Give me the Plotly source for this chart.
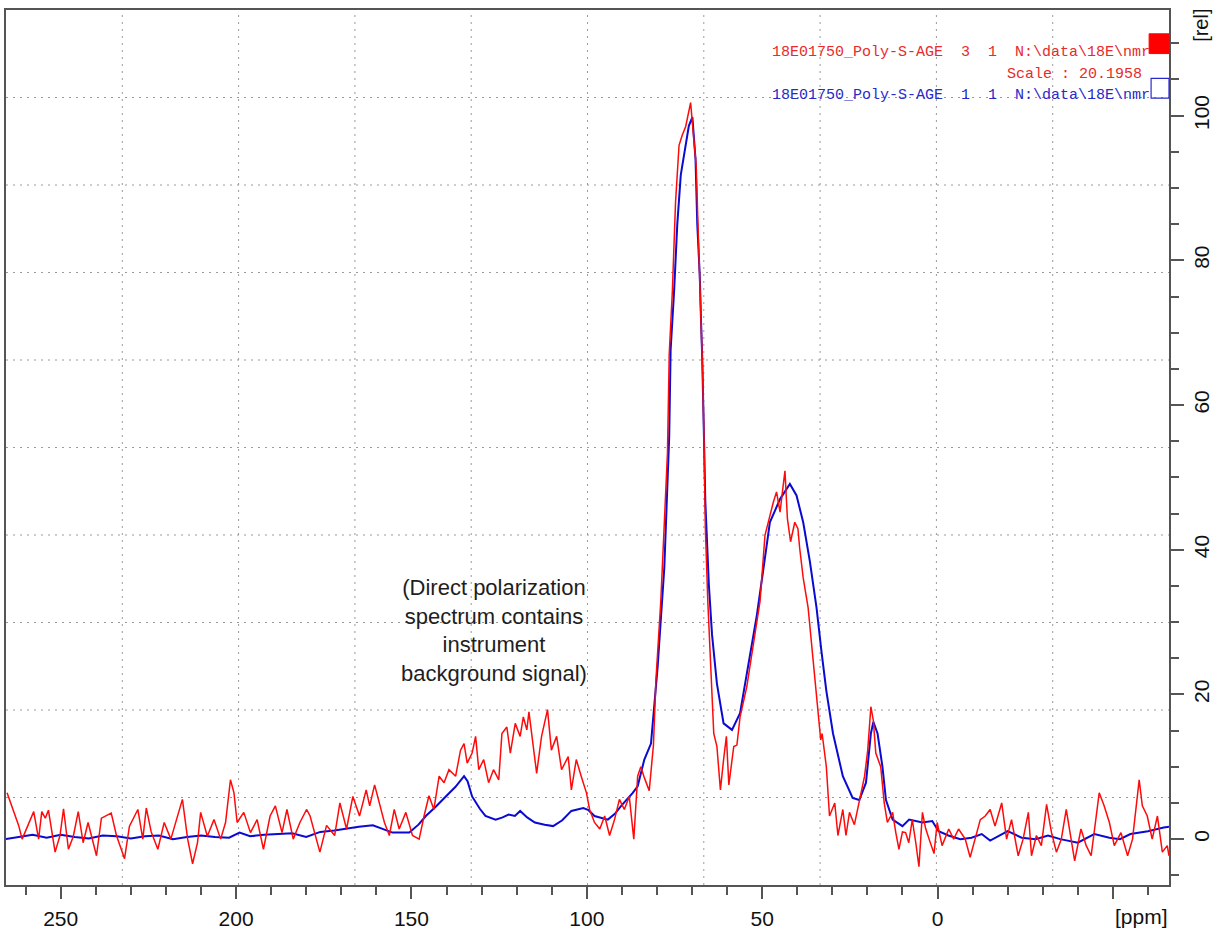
import plotly.graph_objects as go

# ---------------- data ----------------
red_ppm = [
    265.3, 263.9, 262.0, 261.0, 257.7, 256.3, 255.4, 254.4, 253.5, 251.6,
    250.2, 249.2, 247.8, 246.4, 245.0, 243.6, 242.2, 239.8, 238.4, 235.6,
    234.1, 231.8, 230.4, 228.0, 226.6, 225.6, 224.2, 222.3, 220.5, 218.6,
    216.7, 215.3, 213.8, 212.4, 211.0, 210.1, 208.2, 206.3, 204.4, 203.0,
    201.6, 200.6, 199.7, 197.8, 195.9, 194.0, 192.2, 190.3, 188.8, 186.9,
    185.5, 183.7, 181.8, 179.9, 178.9, 176.1, 174.2, 171.9, 170.4, 168.5,
    166.7, 164.8, 162.9, 161.9, 160.5, 159.1, 157.7, 156.3, 154.9, 153.5,
    151.6, 149.7, 147.8, 146.4, 145.0, 143.6, 142.1, 140.7, 139.3, 137.4,
    136.0, 135.0, 134.1, 132.7, 131.7, 130.8, 129.4, 128.0, 126.6, 125.1,
    124.2, 122.8, 121.8, 120.4, 119.0, 118.1, 117.1, 116.5, 115.2, 114.3,
    112.9, 111.2, 110.1, 108.6, 107.2, 105.3, 104.4, 103.0, 101.6, 100.1,
    99.2, 97.8, 96.3, 94.9, 93.5, 92.1, 90.7, 89.3, 87.9, 86.6,
    85.5, 84.6, 83.6, 82.2, 81.0, 80.3, 78.9, 77.0, 76.5, 75.6,
    74.7, 73.7, 72.8, 71.8, 70.4, 69.5, 68.8, 68.3, 67.6, 67.0,
    66.6, 66.2, 65.5, 64.6, 63.8, 62.9, 61.9, 61.0, 60.2, 59.5,
    58.1, 57.2, 56.3, 54.4, 52.0, 50.6, 49.2, 48.3, 46.8, 45.9,
    44.9, 44.0, 43.5, 42.8, 41.9, 40.7, 39.8, 39.3, 38.3, 36.9,
    36.0, 34.5, 33.3, 32.9, 31.7, 30.8, 29.3, 28.4, 27.0, 26.1,
    25.1, 23.7, 22.3, 20.8, 19.9, 19.0, 18.3, 17.6, 16.2, 15.2,
    14.3, 12.8, 11.9, 11.0, 10.0, 9.1, 8.2, 7.2, 6.2, 5.3,
    4.3, 3.4, 2.4, 1.5, 1.0, 0.1, -1.3, -3.2, -4.6, -6.0,
    -7.9, -9.3, -10.8, -12.2, -13.6, -15.0, -16.4, -18.3, -19.7, -21.1,
    -23.0, -24.4, -25.9, -26.8, -28.2, -29.6, -31.1, -32.5, -33.9, -35.3,
    -36.7, -38.1, -39.1, -40.9, -42.4, -43.8, -44.7, -46.1, -47.5, -49.0,
    -50.4, -52.3, -54.2, -55.6, -57.5, -58.4, -59.8, -61.2, -62.7, -64.1,
    -65.5, -66.0,
]
red_val = [
    6.4, 4.6, 1.9, 0.0, 3.8, 0.0, 3.8, 2.9, 4.0, -1.8,
    0.5, 4.2, -1.4, 0.4, 3.8, -0.5, 2.3, -2.3, 2.9, 3.6,
    0.5, -2.7, 1.8, 4.1, 0.0, 4.3, 1.0, -1.4, 2.3, 0.0,
    3.2, 5.5, 0.0, -3.4, -0.5, 3.7, 0.4, 2.7, 0.0, 2.3,
    8.2, 6.4, 2.3, 3.7, 0.9, 2.7, -1.4, 3.2, 4.6, 0.9,
    4.1, 0.0, 2.3, 4.1, 3.2, -1.8, 1.9, 0.5, 5.0, 1.4,
    5.9, 3.2, 6.8, 4.6, 7.5, 5.0, 2.3, 0.5, 4.1, 1.4,
    3.7, 0.5, 0.0, 3.2, 6.0, 4.1, 8.7, 7.8, 9.6, 8.7,
    12.3, 13.2, 10.5, 11.9, 14.2, 9.6, 11.0, 7.8, 9.6, 8.2,
    14.6, 15.5, 11.9, 16.0, 14.2, 16.9, 15.1, 17.6, 12.3, 9.1,
    14.2, 17.9, 12.3, 14.2, 9.6, 11.4, 6.8, 11.0, 8.7, 6.4,
    4.1, 2.3, 1.4, 3.2, 0.5, 2.7, 5.5, 4.1, 5.9, 0.0,
    8.7, 10.0, 8.5, 6.7, 13.0, 21.9, 32.9, 53.4, 67.0, 75.8,
    88.0, 95.9, 97.3, 98.5, 101.8, 97.0, 93.0, 85.0, 75.0, 65.0,
    55.7, 43.0, 32.9, 23.8, 14.6, 12.8, 6.8, 11.0, 14.2, 7.5,
    12.8, 13.0, 16.9, 21.0, 28.3, 32.9, 42.0, 43.8, 46.6, 48.0,
    45.2, 48.9, 50.9, 44.3, 41.1, 43.8, 42.9, 40.2, 36.1, 32.0,
    27.4, 19.2, 13.7, 14.6, 10.0, 3.2, 5.0, 0.5, 4.1, 0.5,
    3.7, 2.0, 5.4, 8.7, 12.3, 18.3, 16.4, 11.9, 10.0, 5.0,
    2.3, 3.7, 0.9, -1.4, 1.0, 0.9, -0.5, 2.7, -0.5, -3.8,
    3.7, 1.5, 0.0, -1.4, -2.0, 2.3, -0.9, 1.4, 0.0, 1.4,
    0.0, -2.5, 0.0, 2.7, 3.2, 4.1, 1.8, 5.0, 0.0, 2.7,
    -2.3, 0.0, 3.7, -2.3, 0.5, -0.9, 4.8, 0.9, -1.8, 0.0,
    4.1, 0.0, -3.0, 1.4, -0.9, -2.3, 1.4, 6.4, 4.6, 2.3,
    -0.9, 0.9, -2.3, 0.0, 8.2, 4.6, 3.2, 0.0, 3.2, -1.8,
    -0.9, -2.3,
]

blue_ppm = [
    265.6, 262.0, 258.0, 254.0, 250.0, 246.0, 242.0, 238.0, 234.0, 230.0,
    226.0, 222.0, 218.0, 214.0, 210.0, 206.0, 202.0, 199.0, 196.0, 192.0,
    188.0, 184.0, 180.0, 176.0, 172.0, 169.5, 165.0, 161.0, 158.0, 155.4,
    150.6, 148.0, 145.9, 143.0, 140.2, 137.5, 135.0, 134.0, 132.7, 130.5,
    128.9, 126.0, 124.0, 122.3, 120.5, 119.0, 117.0, 114.8, 112.0, 109.6,
    107.0, 104.4, 101.0, 99.5, 97.8, 94.0, 92.0, 90.2, 86.9, 85.5,
    83.6, 81.7, 79.8, 77.9, 76.5, 76.1, 75.1, 74.2, 73.2, 70.9,
    69.9, 69.0, 68.5, 67.8, 67.4, 67.1, 66.6, 66.2, 65.2, 64.3,
    62.9, 61.0, 58.6, 56.3, 54.4, 51.5, 49.6, 47.8, 44.9, 42.1,
    40.2, 38.3, 36.4, 34.5, 33.1, 31.7, 29.8, 27.0, 24.2, 22.3,
    20.4, 19.0, 18.3, 17.1, 15.7, 14.7, 12.8, 10.0, 8.1, 4.3,
    1.5, -0.3, -3.1, -6.5, -9.7, -12.6, -15.0, -20.0, -24.0, -28.0,
    -31.5, -35.0, -40.0, -44.7, -49.0, -52.0, -55.0, -60.0, -64.5, -66.0,
]
blue_val = [
    0.0, 0.3, 0.6, 0.2, 0.6, 0.3, 0.1, 0.5, 0.4, 0.1,
    0.4, 0.5, 0.0, 0.3, 0.5, 0.3, 0.2, 0.9, 0.4, 0.6,
    0.7, 0.8, 0.3, 1.0, 1.2, 1.4, 1.7, 1.9, 1.4, 0.9,
    0.9, 2.0, 3.2, 4.5, 5.9, 7.2, 8.7, 8.0, 5.9, 4.2,
    3.2, 2.7, 3.0, 3.4, 3.2, 3.9, 3.0, 2.3, 2.0, 1.8,
    2.6, 3.9, 4.3, 4.0, 3.2, 2.7, 3.5, 4.6, 6.4, 7.3,
    11.0, 13.2, 23.8, 37.5, 55.7, 67.6, 75.8, 85.0, 91.8, 98.6,
    99.8, 94.0, 85.0, 78.0, 71.2, 66.7, 55.7, 46.6, 35.2, 28.3,
    21.5, 16.0, 15.1, 17.4, 22.8, 31.0, 37.5, 43.8, 47.0, 49.1,
    47.5, 43.8, 38.4, 32.0, 26.0, 20.5, 14.6, 8.7, 5.7, 5.4,
    7.8, 14.6, 16.2, 14.6, 10.0, 5.4, 2.7, 1.8, 2.7, 2.3,
    2.5, 1.1, 0.5, 0.0, 0.2, 0.7, -0.2, 1.1, 0.2, 0.0,
    0.5, 0.0, -0.5, 0.7, 0.2, 0.0, 0.7, 1.1, 1.6, 1.7,
]

x_major_ticks = [250, 200, 150, 100, 50, 0, -50]
x_major_text = ["250", "200", "150", "100", "50", "0", ""]
y_major_ticks = [0, 20, 40, 60, 80, 100]
y_major_text = ["0", "20", "40", "60", "80", "100"]

X_RANGE = [265.6, -66.0]
Y_RANGE = [-6.34, 114.6]

NB = "\u00a0"
red_label = f"18E01750_Poly-S-AGE{NB*2}3{NB*2}1{NB*2}N:\\data\\18E\\nmr"
blue_label = f"18E01750_Poly-S-AGE{NB*2}1{NB*2}1{NB*2}N:\\data\\18E\\nmr"
scale_label = f"Scale{NB}:{NB}20.1958"
note_text = "(Direct polarization<br>spectrum contains<br>instrument<br>background signal)"

# ---------------- figure ----------------
fig = go.Figure()
fig.add_trace(go.Scatter(x=blue_ppm, y=blue_val, mode="lines",
                         line=dict(color="#0a0ad2", width=2), showlegend=False))
fig.add_trace(go.Scatter(x=red_ppm, y=red_val, mode="lines",
                         line=dict(color="#ff0a0a", width=1.5), showlegend=False))

# dotted 10x10 grid (independent of ticks)
shapes = []
for i in range(1, 10):
    f = i / 10
    shapes.append(dict(type="line", xref="x domain", yref="y domain", x0=f, x1=f, y0=0, y1=1,
                       line=dict(color="#9a9a9a", width=1, dash="2px,5px"), layer="below"))
    shapes.append(dict(type="line", xref="x domain", yref="y domain", x0=0, x1=1, y0=f, y1=f,
                       line=dict(color="#9a9a9a", width=1, dash="2px,5px"), layer="below"))
# legend boxes
shapes.append(dict(type="rect", xref="paper", yref="paper", x0=0.9829, x1=1.0, y0=0.9502, y1=0.9728,
                   fillcolor="#ff0000", line=dict(color="#ff0000", width=1)))
shapes.append(dict(type="rect", xref="paper", yref="paper", x0=0.9846, x1=1.0, y0=0.8992, y1=0.9219,
                   fillcolor="rgba(0,0,0,0)", line=dict(color="#2a2ad0", width=1.2)))

mono = "Liberation Mono, Courier New, monospace"
annotations = [
    dict(text=red_label, xref="paper", yref="paper", x=0.9858, y=0.9520, xanchor="right",
         yanchor="middle", showarrow=False, font=dict(family=mono, size=15, color="#e82a2a")),
    dict(text=scale_label, xref="paper", yref="paper", x=0.9787, y=0.9262, xanchor="right",
         yanchor="middle", showarrow=False, font=dict(family=mono, size=15, color="#e82a2a")),
    dict(text=blue_label, xref="paper", yref="paper", x=0.9858, y=0.9025, xanchor="right",
         yanchor="middle", showarrow=False, font=dict(family=mono, size=15, color="#2a2ac8")),
    dict(text=note_text, x=126.6, y=28.8, xref="x", yref="y", showarrow=False,
         xanchor="center", yanchor="middle", align="center",
         font=dict(family="Liberation Sans, Arial", size=22, color="#1e1e1e")),
    dict(text="[ppm]", xref="paper", yref="paper", x=0.9765, y=-0.0355, xanchor="center",
         yanchor="middle", showarrow=False,
         font=dict(family="Liberation Sans, Arial", size=21, color="#111111")),
    dict(text="[rel]", xref="paper", yref="paper", x=1.0275, y=0.983, xanchor="center",
         yanchor="middle", textangle=-90, showarrow=False,
         font=dict(family="Liberation Sans, Arial", size=20, color="#111111")),
]

axis_font = dict(family="Liberation Sans, Arial", size=21, color="#111111")
fig.update_layout(
    width=1217, height=934,
    margin=dict(l=4, r=42, t=10, b=41),
    paper_bgcolor="white", plot_bgcolor="white",
    shapes=shapes, annotations=annotations,
    xaxis=dict(range=X_RANGE, showgrid=False, zeroline=False,
               showline=True, linecolor="#555555", linewidth=1.5, mirror=True,
               tickmode="array", tickvals=x_major_ticks, ticktext=x_major_text,
               ticks="outside", ticklen=12, tickwidth=1.5, tickcolor="#555555",
               tickfont=axis_font, ticklabelstandoff=2,
               minor=dict(tickmode="linear", tick0=0, dtick=10, ticks="outside",
                          ticklen=8, tickwidth=1.5, tickcolor="#555555", showgrid=False)),
    yaxis=dict(range=Y_RANGE, side="right", showgrid=False, zeroline=False,
               showline=True, linecolor="#555555", linewidth=1.5, mirror=True,
               tickmode="array", tickvals=y_major_ticks, ticktext=y_major_text,
               ticks="outside", ticklen=13, tickwidth=1.5, tickcolor="#555555",
               tickangle=-90, tickfont=axis_font,
               minor=dict(tickmode="linear", tick0=0, dtick=5, ticks="outside",
                          ticklen=8, tickwidth=1.5, tickcolor="#555555", showgrid=False)),
)

fig.write_html("out.html")
